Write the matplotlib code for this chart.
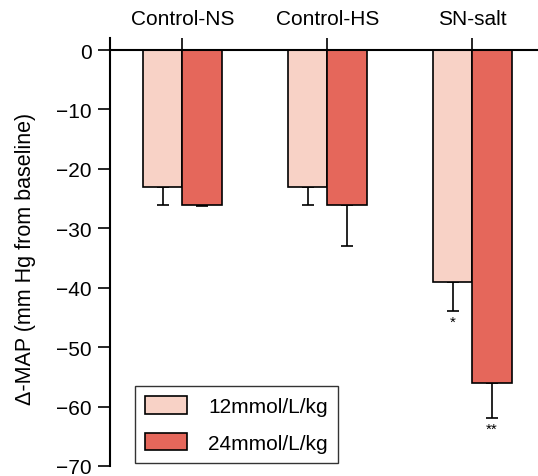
import numpy as np
import matplotlib
matplotlib.use("Agg")
import matplotlib.pyplot as plt

plt.rcParams['font.family'] = ['Liberation Sans', 'DejaVu Sans']

groups = ["Control-NS", "Control-HS", "SN-salt"]
low_dose = [-23, -23, -39]
low_err = [3, 3, 5]
high_dose = [-26, -26, -56]
high_err = [0.3, 7, 6]
low_marks = ["", "", "*"]
high_marks = ["", "", "**"]

light = "#F8D2C6"
dark = "#E5675B"

fig = plt.figure(figsize=(5.38, 4.77), dpi=100)
ax = fig.add_axes([0.2045, 0.021, 0.80, 0.872])

x = np.arange(len(groups))
w = 0.272
ax.bar(x - w / 2, low_dose, w, color=light, edgecolor="black", linewidth=1.2,
       label="12mmol/L/kg", zorder=2)
ax.bar(x + w / 2, high_dose, w, color=dark, edgecolor="black", linewidth=1.2,
       label="24mmol/L/kg", zorder=2)
ax.errorbar(x - w / 2, low_dose, yerr=[low_err, [0] * 3], fmt="none",
            ecolor="black", elinewidth=1.2, capsize=4, capthick=1.2, zorder=1)
ax.errorbar(x + w / 2, high_dose, yerr=[high_err, [0] * 3], fmt="none",
            ecolor="black", elinewidth=1.2, capsize=4, capthick=1.2, zorder=1)

for i in range(len(groups)):
    if low_marks[i]:
        ax.text(x[i] - w / 2, low_dose[i] - low_err[i] - 0.5, low_marks[i],
                ha="center", va="top", fontsize=11)
    if high_marks[i]:
        ax.text(x[i] + w / 2, high_dose[i] - high_err[i] - 0.5, high_marks[i],
                ha="center", va="top", fontsize=11)

ax.set_xlim(-0.5, 2.47)
ax.set_ylim(-70, 0)
ax.set_yticks(np.arange(-70, 1, 10))
ax.set_yticklabels([str(v).replace("-", "\u2212") for v in np.arange(-70, 1, 10)],
                   fontsize=15)
ax.set_xticks(x)
ax.set_xticklabels(groups, fontsize=15)
ax.xaxis.tick_top()
ax.tick_params(axis="x", direction="out", length=9, width=1.2, pad=7)
ax.tick_params(axis="y", direction="out", length=9, width=1.2, pad=4)

ax.spines["right"].set_visible(False)
ax.spines["bottom"].set_visible(False)
ax.spines["left"].set_linewidth(1.5)
ax.spines["top"].set_linewidth(1.5)
ax.spines["left"].set_bounds(-70, 2)

ax.set_ylabel("\u0394-MAP (mm Hg from baseline)", fontsize=15.5, labelpad=15)

leg = ax.legend(loc="lower left", bbox_to_anchor=(0.058, 0.007), fontsize=15,
                frameon=True, fancybox=False, edgecolor="black",
                handlelength=2.0, handleheight=0.9, labelspacing=0.8,
                borderpad=0.5, handletextpad=1.0, borderaxespad=0)
leg.get_frame().set_linewidth(1.0)

fig.savefig("out.png", dpi=100)
